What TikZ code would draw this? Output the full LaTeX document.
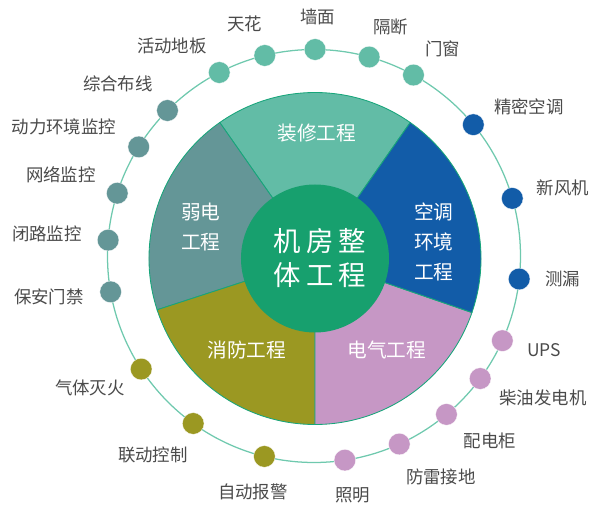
\documentclass[tikz,border=0pt]{standalone}
\usepackage{fontspec}
\usepackage{tikz}
\newfontfamily\cjk{Noto Sans CJK SC}
\newfontfamily\cjkwide[LetterSpace=18]{Noto Sans CJK SC}
\definecolor{ringcol}{HTML}{6FC9AE}
\definecolor{edgecol}{HTML}{17A57A}
\definecolor{decocol}{HTML}{62BCA6}
\definecolor{weakcol}{HTML}{649697}
\definecolor{aircol}{HTML}{125CA8}
\definecolor{firecol}{HTML}{9B9822}
\definecolor{powercol}{HTML}{C697C5}
\definecolor{corecol}{HTML}{17A06E}
\definecolor{labelcol}{HTML}{4A4A4A}

\begin{document}
\begin{tikzpicture}[x=0.025cm,y=0.025cm,
    dot/.style={circle,draw=white,line width=0.2pt,inner sep=0pt,minimum size=0.54cm},
    item/.style={font=\cjk\fontsize{12.4}{14}\selectfont,text=labelcol,inner sep=0pt},
    wedgetext/.style={font=\cjk\fontsize{14}{21.3}\selectfont,text=white,inner sep=0pt,align=center},
    wedge/.style={draw=edgecol,line width=0.6pt}]

    \useasboundingbox (-314,-250) rectangle (286,256);

    % the origin is the centre of the ring, the pie sits slightly below it
    \coordinate (C) at (0,0);
    \coordinate (P) at (1,-2.5);

    \draw[ringcol,line width=0.9pt] (C) circle (206.5);

    % dots on the ring, in polar coordinates
    \node[dot,fill=decocol] (D1) at (103.8:206.5) {};
    \node[dot,fill=decocol] (D2) at (117.3:206.5) {};
    \node[dot,fill=decocol] (D3) at ( 89.7:206.5) {};
    \node[dot,fill=decocol] (D4) at ( 74.5:206.5) {};
    \node[dot,fill=decocol] (D5) at ( 61.2:206.5) {};

    \node[dot,fill=aircol] (D6) at ( 39.5:206.5) {};
    \node[dot,fill=aircol] (D7) at ( 16.2:206.5) {};
    \node[dot,fill=aircol] (D8) at ( -6.4:206.5) {};

    \node[dot,fill=powercol] (D9)  at (-24.2:206.5) {};
    \node[dot,fill=powercol] (D10) at (-36.4:206.5) {};
    \node[dot,fill=powercol] (D11) at (-50.1:206.5) {};
    \node[dot,fill=powercol] (D12) at (-65.6:206.5) {};
    \node[dot,fill=powercol] (D13) at (-81.4:206.5) {};

    \node[dot,fill=firecol] (D14) at (256.1:206.5) {};
    \node[dot,fill=firecol] (D15) at (234.2:206.5) {};
    \node[dot,fill=firecol] (D16) at (213.2:206.5) {};

    \node[dot,fill=weakcol] (D17) at (190.0:206.5) {};
    \node[dot,fill=weakcol] (D18) at (175.6:206.5) {};
    \node[dot,fill=weakcol] (D19) at (162.3:206.5) {};
    \node[dot,fill=weakcol] (D20) at (148.1:206.5) {};
    \node[dot,fill=weakcol] (D21) at (135.2:206.5) {};

    % labels of the dots
    \node[item] (L1) at ( -69, 232) {天花};
    \node[item] (L2) at (-142, 210) {活动地板};
    \node[item] (L3) at (   4, 239) {墙面};
    \node[item] (L4) at (  77, 229) {隔断};
    \node[item] (L5) at ( 129, 207) {门窗};

    \node[item] (L6) at ( 215, 149) {精密空调};
    \node[item] (L7) at ( 249,  68) {新风机};
    \node[item] (L8) at ( 249, -23) {测漏};

    \node[item] (L9)  at ( 230, -94) {UPS};
    \node[item] (L10) at ( 229,-142) {柴油发电机};
    \node[item] (L11) at ( 176,-185) {配电柜};
    \node[item] (L12) at ( 127,-221) {防雷接地};
    \node[item] (L13) at (  39,-239) {照明};

    \node[item] (L14) at ( -61,-236) {自动报警};
    \node[item] (L15) at (-161,-199) {联动控制};
    \node[item] (L16) at (-224,-132) {气体灭火};

    \node[item] (L17) at (-265, -41) {保安门禁};
    \node[item] (L18) at (-267,  22) {闭路监控};
    \node[item] (L19) at (-253,  81) {网络监控};
    \node[item] (L20) at (-250, 129) {动力环境监控};
    \node[item] (L21) at (-196, 172) {综合布线};

    % the five sectors
    \draw[wedge,fill=decocol]   (P) -- ++(55:166)  arc (55:125:166)   -- cycle;
    \draw[wedge,fill=weakcol]   (P) -- ++(125:166) arc (125:198:166)  -- cycle;
    \draw[wedge,fill=firecol]   (P) -- ++(198:166) arc (198:270:166)  -- cycle;
    \draw[wedge,fill=powercol]  (P) -- ++(270:166) arc (270:341:166)  -- cycle;
    \draw[wedge,fill=aircol]    (P) -- ++(-19:166) arc (-19:55:166)   -- cycle;

    \node[wedgetext] (Deco)  at (   3, 123) {装修工程};
    \node[wedgetext] (Weak)  at (-113,  29) {弱电\\工程};
    \node[wedgetext] (Air)   at ( 120,  14) {空调\\环境\\工程};
    \node[wedgetext] (Fire)  at ( -67, -94) {消防工程};
    \node[wedgetext] (Power) at (  73, -94) {电气工程};

    % centre disc
    \fill[corecol] (P) circle (74);
    \node[font=\cjkwide\fontsize{19.5}{24.2}\selectfont,text=white,inner sep=0pt,align=center]
        (Core) at (6,-2) {机房整\\体工程};

\end{tikzpicture}
\end{document}
